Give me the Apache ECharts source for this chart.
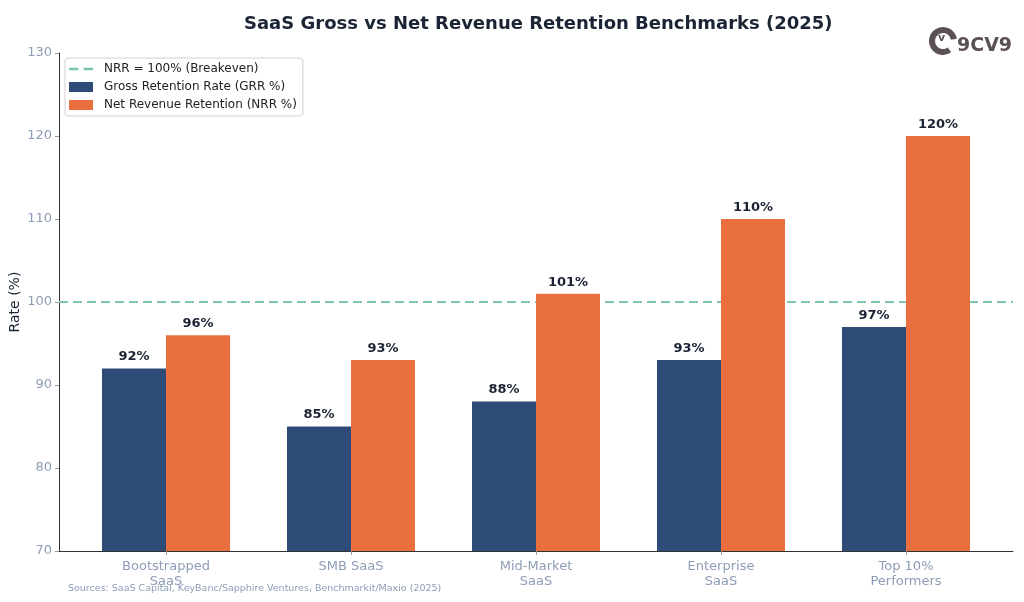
<!DOCTYPE html>
<html>
<head>
<meta charset="utf-8">
<script src="https://cdn.jsdelivr.net/npm/echarts@6/dist/echarts.min.js"></script>
<style>
  html, body { margin: 0; padding: 0; background: #fff; }
  #chart { width: 1024px; height: 602px; }
</style>
</head>
<body>
<div id="chart"></div>
<script>
  var categories = ['Bootstrapped\nSaaS', 'SMB SaaS', 'Mid-Market\nSaaS', 'Enterprise\nSaaS', 'Top 10%\nPerformers'];
  var grr = [92, 85, 88, 93, 97];
  var nrr = [96, 93, 101, 110, 120];
  var breakeven = 100;
  var yTicks = [70, 80, 90, 100, 110, 120, 130];

  var grey = '#8d9db6';
  var dark = '#1b2434';

  var chart = echarts.init(document.getElementById('chart'));
  chart.setOption({
    animation: false,
    textStyle: { fontFamily: 'DejaVu Sans' },
    title: {
      text: 'SaaS Gross vs Net Revenue Retention Benchmarks (2025)',
      left: 239,
      top: 10,
      textStyle: { fontSize: 18, fontWeight: 'bold', color: dark, fontFamily: 'DejaVu Sans' }
    },
    legend: {
      orient: 'vertical',
      left: 65,
      top: 58,
      padding: [5, 6, 5, 4],
      itemGap: 6,
      itemWidth: 24,
      itemHeight: 10,
      borderColor: '#d0d0d0',
      borderWidth: 1,
      borderRadius: 3,
      textStyle: { fontSize: 12, color: '#222', padding: [0, 0, 0, 6] },
      data: [
        { name: 'NRR = 100% (Breakeven)', icon: 'path://M0,4h9v2.5h-9z M14,4h9v2.5h-9z' },
        { name: 'Gross Retention Rate (GRR %)', icon: 'rect' },
        { name: 'Net Revenue Retention (NRR %)', icon: 'rect' }
      ]
    },
    grid: [
      { left: 59, right: 11, top: 53, bottom: 51, outerBoundsMode: 'none' },
      { left: 73.5, right: 25.5, top: 53, bottom: 51, outerBoundsMode: 'none' }
    ],
    xAxis: [
      {
        gridIndex: 0, type: 'value', min: 0, max: 1,
        axisLine: { show: true, lineStyle: { color: '#333', width: 1 } },
        axisTick: { show: false }, axisLabel: { show: false }, splitLine: { show: false }
      },
      {
        gridIndex: 1, type: 'category', data: categories,
        axisLine: { show: false },
        axisTick: { show: true, alignWithLabel: true, length: 4, lineStyle: { color: '#999' } },
        axisLabel: { color: grey, fontSize: 13, margin: 8, lineHeight: 15 }
      }
    ],
    yAxis: [
      {
        gridIndex: 0, type: 'value', min: yTicks[0], max: yTicks[yTicks.length - 1], interval: 10,
        name: 'Rate (%)', nameLocation: 'middle', nameGap: 37, nameMoveOverlap: false,
        nameTextStyle: { color: dark, fontSize: 14 },
        axisLine: { show: true, lineStyle: { color: '#333', width: 1 } },
        axisTick: { show: true, length: 4, lineStyle: { color: '#999' } },
        axisLabel: { color: grey, fontSize: 13, margin: 7 },
        splitLine: { show: false }
      },
      {
        gridIndex: 1, type: 'value', min: yTicks[0], max: yTicks[yTicks.length - 1], interval: 10,
        show: false, splitLine: { show: false }
      }
    ],
    series: [
      {
        name: 'NRR = 100% (Breakeven)',
        type: 'line',
        xAxisIndex: 0, yAxisIndex: 0,
        data: [[0, breakeven], [1, breakeven]],
        symbol: 'none',
        itemStyle: { color: '#7cc7a6' },
        lineStyle: { color: '#7cc7a6', width: 2, type: [9, 5] },
        z: 1
      },
      {
        name: 'Gross Retention Rate (GRR %)',
        type: 'bar',
        xAxisIndex: 1, yAxisIndex: 1,
        data: grr,
        barWidth: 64,
        barGap: '0%',
        itemStyle: { color: '#2f4b78' },
        label: { show: true, position: 'top', formatter: '{c}%', color: dark, fontWeight: 'bold', fontSize: 13, distance: 5 },
        z: 2
      },
      {
        name: 'Net Revenue Retention (NRR %)',
        type: 'bar',
        xAxisIndex: 1, yAxisIndex: 1,
        data: nrr,
        barWidth: 64,
        barGap: '0%',
        itemStyle: { color: '#e96f3e' },
        label: { show: true, position: 'top', formatter: '{c}%', color: dark, fontWeight: 'bold', fontSize: 13, distance: 5 },
        z: 2
      }
    ],
    graphic: [
      {
        type: 'text', left: 68, top: 584,
        style: { text: 'Sources: SaaS Capital, KeyBanc/Sapphire Ventures, Benchmarkit/Maxio (2025)', fill: grey, fontSize: 9.5, fontFamily: 'DejaVu Sans' }
      },
      {
        type: 'arc', shape: { cx: 943, cy: 41, r: 11, startAngle: Math.PI * 0.3, endAngle: Math.PI * 1.95 },
        style: { stroke: '#5b5152', lineWidth: 6, fill: null }
      },
      {
        type: 'text', left: 938, top: 33,
        style: { text: 'v', fill: '#5b5152', fontSize: 11, fontWeight: 'bold', fontFamily: 'DejaVu Sans' }
      },
      {
        type: 'text', left: 957, top: 37,
        style: { text: '9CV9', fill: '#5b5152', fontSize: 19, fontWeight: 'bold', fontFamily: 'DejaVu Sans' }
      }
    ]
  });
</script>
</body>
</html>
